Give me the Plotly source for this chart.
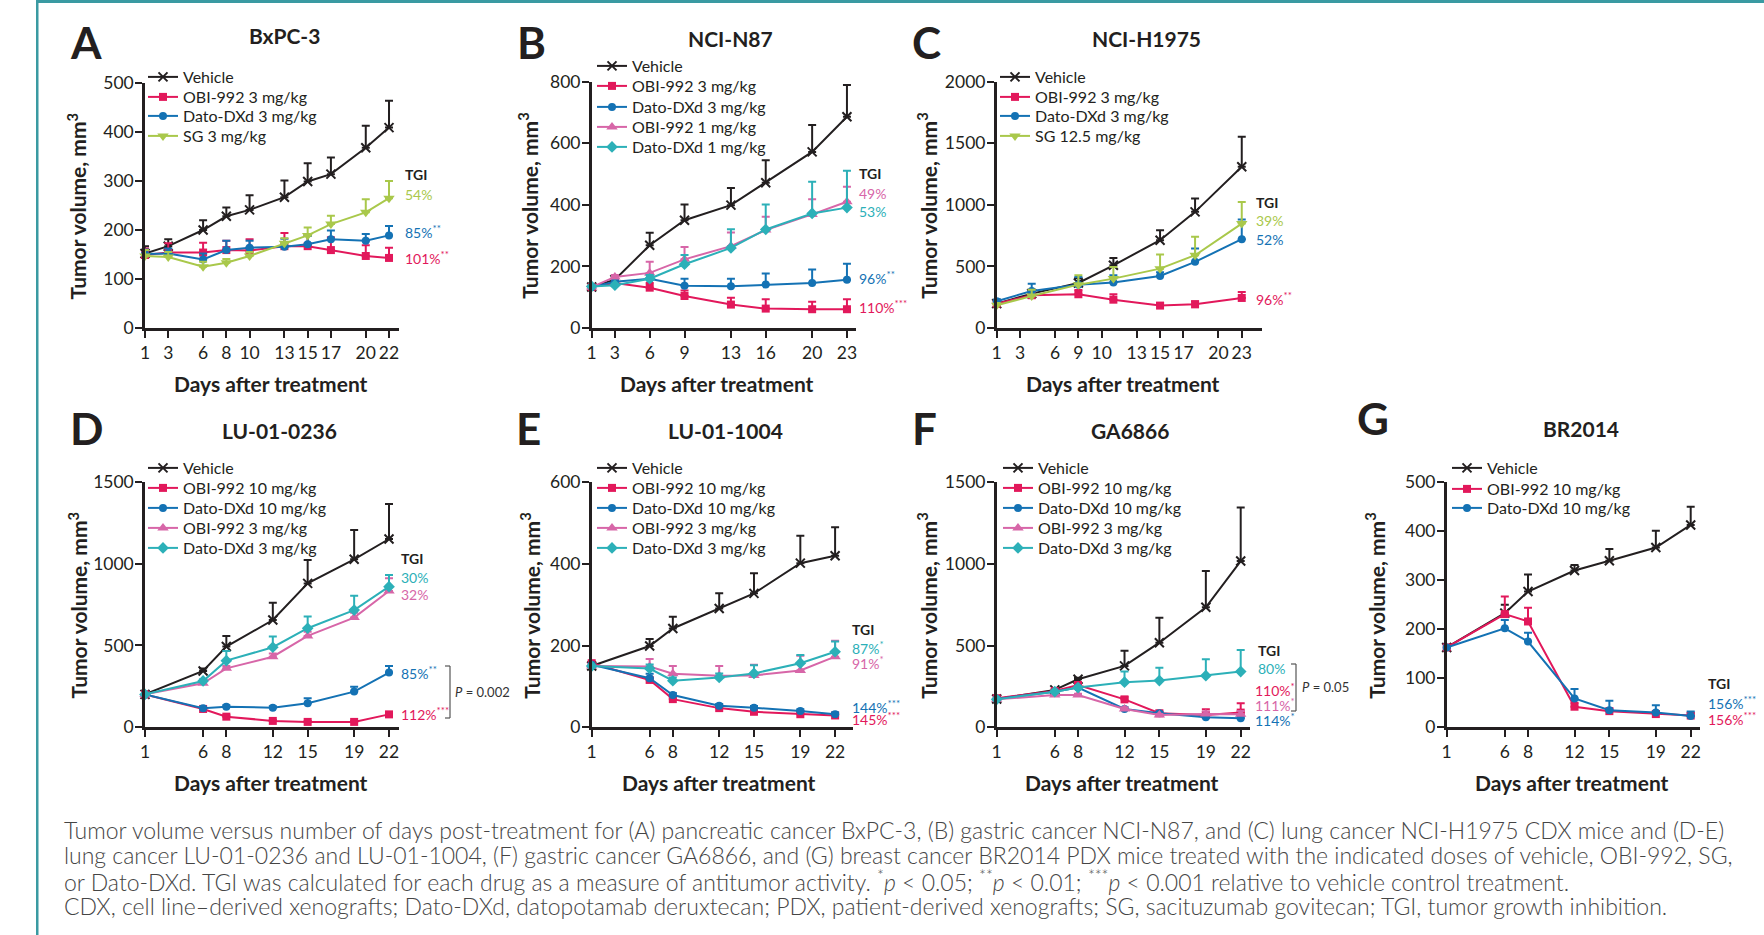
import plotly.graph_objects as go

W, H = 1764, 935

# ---------------- data ----------------
A_DAYS = [1, 3, 6, 8, 10, 13, 15, 17, 20, 22]
A_VEH = [152, 167, 200, 228, 241, 267, 299, 314, 368, 409]
A_VEH_ERR = [15, 14, 20, 18, 30, 34, 37, 34, 45, 55]
A_OBI3 = [149, 154, 154, 159, 158, 167, 167, 159, 147, 143]
A_OBI3_ERR = [13, 19, 20, 19, 23, 27, 23, 26, 22, 21]
A_DATO3 = [151, 152, 140, 159, 164, 166, 171, 181, 178, 189]
A_DATO3_ERR = [9, 10, 12, 19, 14, 16, 17, 18, 14, 19]
A_SG3 = [147, 145, 125, 133, 147, 173, 189, 212, 236, 265]
A_SG3_ERR = [12, 10, 10, 8, 8, 10, 16, 17, 27, 35]

B_DAYS = [1, 3, 6, 9, 13, 16, 20, 23]
B_VEH = [133, 157, 269, 350, 399, 472, 572, 686]
B_VEH_ERR = [10, 9, 40, 51, 56, 73, 87, 103]
B_OBI3 = [133, 146, 131, 104, 76, 63, 61, 61]
B_OBI3_ERR = [5, 8, 15, 18, 22, 30, 24, 32]
B_DATO3 = [133, 150, 160, 137, 136, 141, 146, 157]
B_DATO3_ERR = [5, 8, 12, 23, 24, 36, 44, 52]
B_OBI1 = [133, 166, 179, 223, 266, 318, 369, 410]
B_OBI1_ERR = [5, 6, 36, 40, 44, 43, 49, 49]
B_DATO1 = [135, 139, 160, 207, 260, 320, 372, 391]
B_DATO1_ERR = [5, 5, 12, 30, 61, 81, 103, 120]

# panel C: measurement positions on the day axis, tick positions and their printed labels
C_POS = [1, 4, 8, 11, 15, 18, 22]
C_TICKPOS = [1, 3, 6, 8, 10, 13, 15, 17, 20, 22]
C_TICKTEXT = ["1", "3", "6", "9", "10", "13", "15", "17", "20", "23"]
C_VEH = [198, 279, 366, 509, 713, 943, 1309]
C_VEH_ERR = [25, 30, 40, 60, 81, 108, 244]
C_OBI3 = [198, 266, 274, 230, 182, 192, 244]
C_OBI3_ERR = [20, 40, 35, 44, 20, 25, 49]
C_DATO3 = [217, 301, 352, 369, 423, 537, 721]
C_DATO3_ERR = [16, 59, 63, 59, 30, 108, 160]
C_SG = [184, 260, 352, 401, 482, 591, 848]
C_SG_ERR = [20, 50, 76, 95, 114, 149, 176]

PDX_DAYS = [1, 6, 8, 12, 15, 19, 22]
D_VEH = [201, 344, 493, 655, 879, 1026, 1150]
D_VEH_ERR = [None, 15, 65, 106, 143, 179, 214]
D_OBI10 = [201, 112, 65, 39, 33, 33, 79]
D_OBI10_ERR = [None, 8, 8, 6, 6, 6, 10]
D_DATO10 = [201, 116, 126, 120, 147, 218, 334]
D_DATO10_ERR = [None, 6, 8, 8, 30, 30, 41]
D_OBI3 = [201, 269, 360, 431, 558, 670, 832]
D_OBI3_ERR = [None, 10, 15, 20, 25, 30, 78]
D_DATO3 = [201, 283, 407, 489, 605, 716, 859]
D_DATO3_ERR = [None, 10, 59, 65, 71, 88, 71]

E_VEH = [150, 199, 242, 291, 328, 402, 420]
E_VEH_ERR = [None, 17, 29, 37, 49, 67, 70]
E_OBI10 = [157, 116, 69, 47, 38, 32, 29]
E_OBI10_ERR = [None, 5, 4, 3, 3, 3, 3]
E_DATO10 = [153, 120, 79, 53, 48, 40, 32]
E_DATO10_ERR = [None, 11, 5, 4, 4, 4, 4]
E_OBI3 = [150, 149, 131, 126, 127, 139, 173]
E_OBI3_ERR = [None, 18, 19, 24, 26, 36, 39]
E_DATO3 = [150, 144, 114, 122, 132, 157, 185]
E_DATO3_ERR = [None, 10, 8, 10, 20, 20, 25]

F_VEH = [173, 229, 294, 376, 518, 735, 1018]
F_VEH_ERR = [None, 5, 10, 93, 153, 222, 327]
F_OBI10 = [178, 222, 259, 171, 86, 76, 90]
F_OBI10_ERR = [None, 8, 15, 15, 10, 34, 57]
F_DATO10 = [173, 218, 243, 112, 86, 61, 55]
F_DATO10_ERR = [None, 5, 8, 10, 8, 8, 8]
F_OBI3 = [171, 198, 198, 112, 76, 82, 80]
F_OBI3_ERR = [None, 5, 8, 10, 6, 15, 20]
F_DATO3 = [171, 218, 243, 276, 286, 316, 341]
F_DATO3_ERR = [None, 5, 10, 65, 79, 100, 132]

G_VEH = [163, 233, 277, 320, 340, 367, 413]
G_VEH_ERR = [None, 17, 35, 11, 24, 34, 37]
G_OBI10 = [163, 231, 216, 42, 33, 27, 24]
G_OBI10_ERR = [None, 36, 28, 8, 5, 5, 5]
G_DATO10 = [163, 202, 175, 59, 35, 30, 23]
G_DATO10_ERR = [None, 17, 18, 19, 19, 15, 9]

# ---------------- styles ----------------
BLACK = "#231f20"
CRIMSON = "#e2185b"
BLUE = "#1472b4"
GREEN = "#a9c84b"
MAGENTA = "#d766a8"
TEAL = "#2cb0b8"
FONT = "Lato"

STYLE = {
    "veh": dict(color=BLACK, symbol="x-thin", size=9),
    "obi_hi": dict(color=CRIMSON, symbol="square", size=8),
    "dato_hi": dict(color=BLUE, symbol="circle", size=8),
    "sg": dict(color=GREEN, symbol="triangle-down", size=10),
    "obi_lo": dict(color=MAGENTA, symbol="triangle-up", size=10),
    "dato_lo": dict(color=TEAL, symbol="diamond", size=9),
}


def px(x):
    return x / W


def py(y):
    return 1 - y / H


PANELS = [
    dict(letter="A", title="BxPC-3", days=A_DAYS, xend=22.86, x0=145, x1=399, yb=328, yt=83,
         ymax=500, ydt=100, tickpos=A_DAYS, ticktext=None,
         series=[("veh", "Vehicle", A_VEH, A_VEH_ERR), ("obi_hi", "OBI-992 3 mg/kg", A_OBI3, A_OBI3_ERR),
                 ("dato_hi", "Dato-DXd 3 mg/kg", A_DATO3, A_DATO3_ERR), ("sg", "SG 3 mg/kg", A_SG3, A_SG3_ERR)],
         leg_x=183, leg_y=[77, 97, 116, 136],
         letter_xy=(68, 42), title_xy=(284, 36), ytitle_x=77, xtitle_xy=(271, 383)),
    dict(letter="B", title="NCI-N87", days=B_DAYS, xend=23.78, x0=591.7, x1=856, yb=328, yt=81.7,
         ymax=800, ydt=200, tickpos=B_DAYS, ticktext=None,
         series=[("veh", "Vehicle", B_VEH, B_VEH_ERR), ("obi_hi", "OBI-992 3 mg/kg", B_OBI3, B_OBI3_ERR),
                 ("dato_hi", "Dato-DXd 3 mg/kg", B_DATO3, B_DATO3_ERR), ("obi_lo", "OBI-992 1 mg/kg", B_OBI1, B_OBI1_ERR),
                 ("dato_lo", "Dato-DXd 1 mg/kg", B_DATO1, B_DATO1_ERR)],
         leg_x=632, leg_y=[66, 86, 107, 127, 147],
         letter_xy=(515, 42), title_xy=(730, 38), ytitle_x=528, xtitle_xy=(717, 383)),
    dict(letter="C", title="NCI-H1975", days=C_POS, xend=23.71, x0=996.7, x1=1261.7, yb=328, yt=81.7,
         ymax=2000, ydt=500, tickpos=C_TICKPOS, ticktext=C_TICKTEXT,
         series=[("veh", "Vehicle", C_VEH, C_VEH_ERR), ("obi_hi", "OBI-992 3 mg/kg", C_OBI3, C_OBI3_ERR),
                 ("dato_hi", "Dato-DXd 3 mg/kg", C_DATO3, C_DATO3_ERR), ("sg", "SG 12.5 mg/kg", C_SG, C_SG_ERR)],
         leg_x=1035, leg_y=[77, 97, 116, 136],
         letter_xy=(910, 42), title_xy=(1146, 38), ytitle_x=927, xtitle_xy=(1123, 383)),
    dict(letter="D", title="LU-01-0236", days=PDX_DAYS, xend=22.86, x0=145, x1=399, yb=727.3, yt=481.7,
         ymax=1500, ydt=500, tickpos=PDX_DAYS, ticktext=None,
         series=[("veh", "Vehicle", D_VEH, D_VEH_ERR), ("obi_hi", "OBI-992 10 mg/kg", D_OBI10, D_OBI10_ERR),
                 ("dato_hi", "Dato-DXd 10 mg/kg", D_DATO10, D_DATO10_ERR), ("obi_lo", "OBI-992 3 mg/kg", D_OBI3, D_OBI3_ERR),
                 ("dato_lo", "Dato-DXd 3 mg/kg", D_DATO3, D_DATO3_ERR)],
         leg_x=183, leg_y=[468, 488, 508, 528, 548],
         letter_xy=(68, 428), title_xy=(279, 430), ytitle_x=77, xtitle_xy=(271, 782)),
    dict(letter="E", title="LU-01-1004", days=PDX_DAYS, xend=23.57, x0=591.7, x1=853.3, yb=727.3, yt=482.3,
         ymax=600, ydt=200, tickpos=PDX_DAYS, ticktext=None,
         series=[("veh", "Vehicle", E_VEH, E_VEH_ERR), ("obi_hi", "OBI-992 10 mg/kg", E_OBI10, E_OBI10_ERR),
                 ("dato_hi", "Dato-DXd 10 mg/kg", E_DATO10, E_DATO10_ERR), ("obi_lo", "OBI-992 3 mg/kg", E_OBI3, E_OBI3_ERR),
                 ("dato_lo", "Dato-DXd 3 mg/kg", E_DATO3, E_DATO3_ERR)],
         leg_x=632, leg_y=[468, 488, 508, 528, 548],
         letter_xy=(514, 428), title_xy=(725, 430), ytitle_x=530, xtitle_xy=(719, 782)),
    dict(letter="F", title="GA6866", days=PDX_DAYS, xend=22.8, x0=996.7, x1=1250, yb=727.3, yt=482.3,
         ymax=1500, ydt=500, tickpos=PDX_DAYS, ticktext=None,
         series=[("veh", "Vehicle", F_VEH, F_VEH_ERR), ("obi_hi", "OBI-992 10 mg/kg", F_OBI10, F_OBI10_ERR),
                 ("dato_hi", "Dato-DXd 10 mg/kg", F_DATO10, F_DATO10_ERR), ("obi_lo", "OBI-992 3 mg/kg", F_OBI3, F_OBI3_ERR),
                 ("dato_lo", "Dato-DXd 3 mg/kg", F_DATO3, F_DATO3_ERR)],
         leg_x=1038, leg_y=[468, 488, 508, 528, 548],
         letter_xy=(910, 428), title_xy=(1130, 430), ytitle_x=927, xtitle_xy=(1122, 782)),
    dict(letter="G", title="BR2014", days=PDX_DAYS, xend=22.8, x0=1446.7, x1=1700, yb=727.3, yt=482.3,
         ymax=500, ydt=100, tickpos=PDX_DAYS, ticktext=None,
         series=[("veh", "Vehicle", G_VEH, G_VEH_ERR), ("obi_hi", "OBI-992 10 mg/kg", G_OBI10, G_OBI10_ERR),
                 ("dato_hi", "Dato-DXd 10 mg/kg", G_DATO10, G_DATO10_ERR)],
         leg_x=1487, leg_y=[468, 489, 508],
         letter_xy=(1355, 418), title_xy=(1581, 429), ytitle_x=1375, xtitle_xy=(1572, 782)),
]

TGI_LABELS = [
    ("TGI", BLACK, 403, 175, True), ("54%", GREEN, 403, 195, False),
    ("85%<sup>**</sup>", BLUE, 403, 231, False), ("101%<sup>**</sup>", CRIMSON, 403, 257, False),
    ("TGI", BLACK, 857, 174, True), ("49%", MAGENTA, 857, 193, False), ("53%", TEAL, 857, 211, False),
    ("96%<sup>**</sup>", BLUE, 857, 277, False), ("110%<sup>***</sup>", CRIMSON, 857, 306, False),
    ("TGI", BLACK, 1254, 203, True), ("39%", GREEN, 1254, 221, False), ("52%", BLUE, 1254, 239, False),
    ("96%<sup>**</sup>", CRIMSON, 1254, 298, False),
    ("TGI", BLACK, 399, 558, True), ("30%", TEAL, 399, 577, False), ("32%", MAGENTA, 399, 594, False),
    ("85%<sup>**</sup>", BLUE, 399, 672, False), ("112%<sup>***</sup>", CRIMSON, 399, 713, False),
    ("TGI", BLACK, 850, 629, True), ("87%<sup>*</sup>", TEAL, 850, 647, False), ("91%<sup>*</sup>", MAGENTA, 850, 662, False),
    ("144%<sup>***</sup>", BLUE, 850, 706, False), ("145%<sup>***</sup>", CRIMSON, 850, 718, False),
    ("TGI", BLACK, 1256, 650, True), ("80%", TEAL, 1256, 668, False), ("110%<sup>*</sup>", CRIMSON, 1253, 689, False),
    ("111%<sup>*</sup>", MAGENTA, 1253, 704, False), ("114%<sup>*</sup>", BLUE, 1253, 719, False),
    ("TGI", BLACK, 1706, 683, True), ("156%<sup>***</sup>", BLUE, 1706, 702, False),
    ("156%<sup>***</sup>", CRIMSON, 1706, 718, False),
]

CAPTION = [
    "Tumor volume versus number of days post-treatment for (A) pancreatic cancer BxPC-3, (B) gastric cancer NCI-N87, and (C) lung cancer NCI-H1975 CDX mice and (D-E)",
    "lung cancer LU-01-0236 and LU-01-1004, (F) gastric cancer GA6866, and (G) breast cancer BR2014 PDX mice treated with the indicated doses of vehicle, OBI-992, SG,",
    "or Dato-DXd. TGI was calculated for each drug as a measure of antitumor activity. <sup>*</sup><i>p</i> &lt; 0.05; <sup>**</sup><i>p</i> &lt; 0.01; <sup>***</sup><i>p</i> &lt; 0.001 relative to vehicle control treatment.",
    "CDX, cell line\u2013derived xenografts; Dato-DXd, datopotamab deruxtecan; PDX, patient-derived xenografts; SG, sacituzumab govitecan; TGI, tumor growth inhibition.",
]
CAPTION_Y = [829.5, 855, 880.5, 906]

# ---------------- figure ----------------
fig = go.Figure()
layout = dict(
    width=W, height=H, margin=dict(l=0, r=0, t=0, b=0, pad=0, autoexpand=False), autosize=False,
    paper_bgcolor="white", plot_bgcolor="rgba(0,0,0,0)",
    font=dict(family=FONT, color=BLACK), showlegend=True,
)
annotations = []
shapes = []
legend_idx = 0

for i, p in enumerate(PANELS):
    n = i + 1
    xa = "xaxis" if n == 1 else f"xaxis{n}"
    ya = "yaxis" if n == 1 else f"yaxis{n}"
    xref = "x" if n == 1 else f"x{n}"
    yref = "y" if n == 1 else f"y{n}"
    axis_common = dict(showline=True, linewidth=2.5, linecolor=BLACK, ticks="outside", ticklen=7,
                       tickwidth=2, tickcolor=BLACK, showgrid=False, zeroline=False, automargin=False,
                       tickfont=dict(family=FONT, size=17.5, color=BLACK), fixedrange=True)
    layout[xa] = dict(domain=[px(p["x0"]), px(p["x1"])], range=[1, p["xend"]], anchor=yref,
                      tickmode="array", tickvals=p["tickpos"], tickangle=0,
                      ticktext=p["ticktext"] if p["ticktext"] else [str(d) for d in p["tickpos"]],
                      **axis_common)
    layout[ya] = dict(domain=[py(p["yb"]), py(p["yt"])], range=[0, p["ymax"]], anchor=xref,
                      tickmode="linear", tick0=0, dtick=p["ydt"], ticklabelstandoff=-2, **axis_common)

    for j, (key, name, vals, errs) in enumerate(p["series"]):
        st = STYLE[key]
        legend_idx += 1
        lname = "legend" if legend_idx == 1 else f"legend{legend_idx}"
        marker = dict(color=st["color"], symbol=st["symbol"], size=st["size"])
        if key == "veh":
            marker["line"] = dict(color=st["color"], width=2)
        fig.add_trace(go.Scatter(
            x=p["days"], y=vals, name=name, mode="lines+markers",
            line=dict(color=st["color"], width=2), marker=marker,
            error_y=dict(type="data", symmetric=False, array=errs, arrayminus=[0] * len(errs),
                         color=st["color"], thickness=2, width=4),
            xaxis=xref, yaxis=yref, legend=lname, cliponaxis=False, hoverinfo="skip",
        ))
        layout[lname] = dict(x=px(p["leg_x"] - 40), y=py(p["leg_y"][j]), xanchor="left", yanchor="middle",
                             bgcolor="rgba(0,0,0,0)", borderwidth=0,
                             font=dict(family=FONT, size=16, color=BLACK), itemwidth=30)

    lx, lyy = p["letter_xy"]
    annotations.append(dict(text=p["letter"], x=px(lx), y=py(lyy), xref="paper", yref="paper",
                            xanchor="left", yanchor="middle", showarrow=False,
                            font=dict(family=FONT, size=44, color=BLACK, weight=700)))
    tx, ty = p["title_xy"]
    annotations.append(dict(text=p["title"], x=px(tx), y=py(ty), xref="paper", yref="paper",
                            xanchor="center", yanchor="middle", showarrow=False,
                            font=dict(family=FONT, size=21, color=BLACK, weight=700)))
    annotations.append(dict(text="Tumor volume, mm<sup>3</sup>", x=px(p["ytitle_x"]),
                            y=py((p["yb"] + p["yt"]) / 2 + 1), xref="paper", yref="paper",
                            xanchor="center", yanchor="middle", textangle=-90, showarrow=False,
                            font=dict(family=FONT, size=21, color=BLACK, weight=700)))
    xtx, xty = p["xtitle_xy"]
    annotations.append(dict(text="Days after treatment", x=px(xtx), y=py(xty), xref="paper", yref="paper",
                            xanchor="center", yanchor="middle", showarrow=False,
                            font=dict(family=FONT, size=21, color=BLACK, weight=700)))

for text, color, x, y, bold in TGI_LABELS:
    annotations.append(dict(text=text, x=px(x), y=py(y), xref="paper", yref="paper",
                            xanchor="left", yanchor="middle", showarrow=False,
                            font=dict(family=FONT, size=14, color=color, weight=700 if bold else 400)))

for (bx, y0, y1, tx, ty, txt) in [(450, 666, 718, 453, 692, "<i>P</i> = 0.002"),
                                  (1296, 664, 711, 1300, 687, "<i>P</i> = 0.05")]:
    for (xa0, ya0, xa1, ya1) in [(bx - 5, y0, bx, y0), (bx, y0, bx, y1), (bx - 5, y1, bx, y1)]:
        shapes.append(dict(type="line", xref="paper", yref="paper", x0=px(xa0), y0=py(ya0),
                           x1=px(xa1), y1=py(ya1), line=dict(color="#555555", width=1.2)))
    annotations.append(dict(text=txt, x=px(tx), y=py(ty), xref="paper", yref="paper",
                            xanchor="left", yanchor="middle", showarrow=False,
                            font=dict(family=FONT, size=13, color="#333333")))

for line, y in zip(CAPTION, CAPTION_Y):
    annotations.append(dict(text=line, x=px(62), y=py(y), xref="paper", yref="paper",
                            xanchor="left", yanchor="middle", showarrow=False,
                            font=dict(family=FONT, size=23, color="#454545", weight=300)))

shapes.append(dict(type="rect", xref="paper", yref="paper", x0=px(36), x1=1, y0=py(3), y1=1,
                   fillcolor="#3a9aa2", line=dict(width=0)))
shapes.append(dict(type="rect", xref="paper", yref="paper", x0=px(36), x1=px(38.5), y0=0, y1=1,
                   fillcolor="#3a9aa2", line=dict(width=0)))

layout["annotations"] = annotations
layout["shapes"] = shapes
fig.update_layout(**layout)
fig.write_html("out.html")
